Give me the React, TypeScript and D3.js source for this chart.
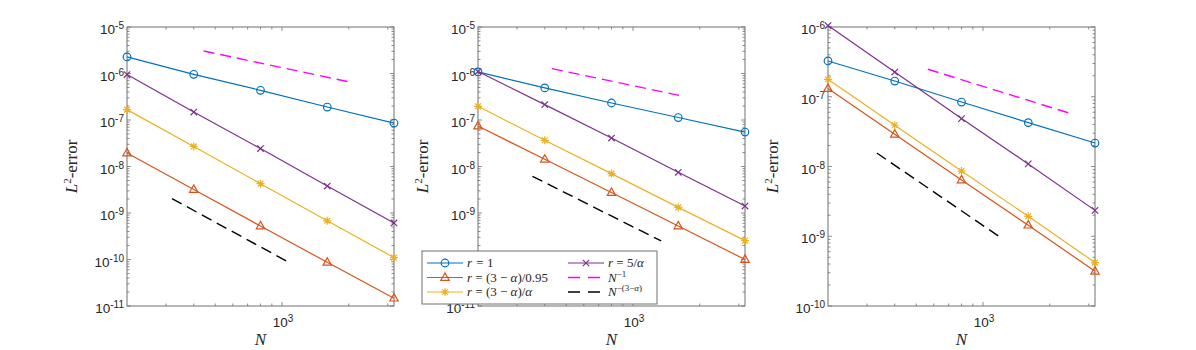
import * as d3 from "d3";

// N values shared by all three panels
const nValues = [200, 400, 800, 1600, 3200];

// panel 1
const p1Rone = [2.27e-6, 9.6e-7, 4.35e-7, 1.9e-7, 8.6e-8];
const p1R095 = [1.95e-8, 3.2e-9, 5.25e-10, 8.7e-11, 1.47e-11];
const p1RAlpha = [1.67e-7, 2.7e-8, 4.27e-9, 6.8e-10, 1.1e-10];
const p1R5 = [9.5e-7, 1.48e-7, 2.43e-8, 3.8e-9, 6.1e-10];
const p1SlopeOneN = [443, 2084];
const p1SlopeOne = [3.05e-6, 6.37e-7];
const p1SlopeAlphaN = [319, 1069];
const p1SlopeAlpha = [2.04e-9, 8.8e-11];

// panel 2
const p2Rone = [1.08e-6, 4.9e-7, 2.32e-7, 1.13e-7, 5.5e-8];
const p2R095 = [7.4e-8, 1.43e-8, 2.75e-9, 5.25e-10, 1.0e-10];
const p2RAlpha = [1.97e-7, 3.66e-8, 7.03e-9, 1.32e-9, 2.55e-10];
const p2R5 = [1.1e-6, 2.14e-7, 4.1e-8, 7.5e-9, 1.41e-9];
const p2SlopeOneN = [431, 1667];
const p2SlopeOne = [1.27e-6, 3.28e-7];
const p2SlopeAlphaN = [352, 1340];
const p2SlopeAlpha = [6.16e-9, 2.5e-10];

// panel 3
const p3Rone = [3.26e-7, 1.68e-7, 8.4e-8, 4.26e-8, 2.17e-8];
const p3R095 = [1.31e-7, 2.9e-8, 6.4e-9, 1.44e-9, 3.15e-10];
const p3RAlpha = [1.78e-7, 3.9e-8, 8.6e-9, 1.93e-9, 4.19e-10];
const p3R5 = [1.05e-6, 2.26e-7, 4.86e-8, 1.09e-8, 2.35e-9];
const p3SlopeOneN = [564, 2496];
const p3SlopeOne = [2.48e-7, 5.73e-8];
const p3SlopeAlphaN = [332, 1221];
const p3SlopeAlpha = [1.56e-8, 9.25e-10];

const xDomain = [200, 3200];
const xMajor = [1000];

const colors = {
  blue: "#0072BD",
  orange: "#D95319",
  yellow: "#EDB120",
  purple: "#7E2F8E",
  magenta: "#FF00FF",
  black: "#000000",
};

const sans = "'Liberation Sans', Arial, Helvetica, sans-serif";
const serif = "'Liberation Serif', 'Times New Roman', serif";

const W = 1196;
const H = 350;
const top = 27;
const plotH = 279;
const plotW = 267;

const panels = [
  { left: 127, yExp: [-11, -5], series: [p1Rone, p1R095, p1RAlpha, p1R5], refs: [[p1SlopeOneN, p1SlopeOne], [p1SlopeAlphaN, p1SlopeAlpha]] },
  { left: 478, yExp: [-11, -5], series: [p2Rone, p2R095, p2RAlpha, p2R5], refs: [[p2SlopeOneN, p2SlopeOne], [p2SlopeAlphaN, p2SlopeAlpha]] },
  { left: 828, yExp: [-10, -6], series: [p3Rone, p3R095, p3RAlpha, p3R5], refs: [[p3SlopeOneN, p3SlopeOne], [p3SlopeAlphaN, p3SlopeAlpha]] },
];

const seriesStyle = [
  { color: colors.blue, marker: "circle" },
  { color: colors.orange, marker: "triangle" },
  { color: colors.yellow, marker: "star" },
  { color: colors.purple, marker: "cross" },
];
const refStyle = [colors.magenta, colors.black];

function Marker({ kind, x, y, color }) {
  const sw = 1.2;
  if (kind === "circle")
    return <circle cx={x} cy={y} r={3.8} fill="none" stroke={color} strokeWidth={sw} />;
  if (kind === "triangle")
    return (
      <path d={`M${x},${y - 4.6}L${x + 4.2},${y + 2.8}L${x - 4.2},${y + 2.8}Z`}
        fill="none" stroke={color} strokeWidth={sw} />
    );
  if (kind === "star") {
    const a = 4, b = 2.9;
    return (
      <path d={`M${x},${y - a}V${y + a}M${x - a},${y}H${x + a}M${x - b},${y - b}L${x + b},${y + b}M${x - b},${y + b}L${x + b},${y - b}`}
        stroke={color} strokeWidth={sw} />
    );
  }
  const c = 3.2;
  return (
    <path d={`M${x - c},${y - c}L${x + c},${y + c}M${x - c},${y + c}L${x + c},${y - c}`}
      stroke={color} strokeWidth={sw} />
  );
}

function Pow({ x, y, anchor, exp, size, supSize }) {
  return (
    <text x={x} y={y} textAnchor={anchor} fontFamily={sans} fontSize={size} fill="#262626">
      10<tspan dy={-5} fontSize={supSize}>{exp}</tspan>
    </text>
  );
}

function Panel({ p }) {
  const x = d3.scaleLog().domain(xDomain).range([p.left, p.left + plotW]);
  const y = d3.scaleLog().domain([10 ** p.yExp[0], 10 ** p.yExp[1]]).range([top + plotH, top]);
  const right = p.left + plotW;
  const bottom = top + plotH;
  const yMajor = d3.range(p.yExp[0], p.yExp[1] + 1);
  const yMinor = [];
  for (let e = p.yExp[0]; e < p.yExp[1]; e++) for (let k = 2; k <= 9; k++) yMinor.push(k * 10 ** e);
  const xMinor = [300, 400, 500, 600, 700, 800, 900, 2000, 3000];
  const line = d3.line<number>().x((_, i) => x(nValues[i])).y((d) => y(d));
  const tick = 4, minor = 2.5;
  const axisColor = "#707070";
  return (
    <g>
      {/* ticks */}
      <g stroke={axisColor} strokeWidth={0.8}>
        {yMajor.map((v) => (
          <g key={"ym" + v}>
            <line x1={p.left} x2={p.left + tick} y1={y(10 ** v)} y2={y(10 ** v)} />
            <line x1={right} x2={right - tick} y1={y(10 ** v)} y2={y(10 ** v)} />
          </g>
        ))}
        {yMinor.map((v, i) => (
          <g key={"yn" + i}>
            <line x1={p.left} x2={p.left + minor} y1={y(v)} y2={y(v)} />
            <line x1={right} x2={right - minor} y1={y(v)} y2={y(v)} />
          </g>
        ))}
        {xMajor.map((v) => (
          <g key={"xm" + v}>
            <line x1={x(v)} x2={x(v)} y1={bottom} y2={bottom - tick} />
            <line x1={x(v)} x2={x(v)} y1={top} y2={top + tick} />
          </g>
        ))}
        {xMinor.map((v) => (
          <g key={"xn" + v}>
            <line x1={x(v)} x2={x(v)} y1={bottom} y2={bottom - minor} />
            <line x1={x(v)} x2={x(v)} y1={top} y2={top + minor} />
          </g>
        ))}
      </g>
      <rect x={p.left} y={top} width={plotW} height={plotH} fill="none" stroke={axisColor} strokeWidth={1} />

      {/* tick labels */}
      {yMajor.map((v) => (
        <Pow key={"yl" + v} x={p.left - 3} y={y(10 ** v) + 7} anchor="end" exp={`-${-v}`} size={13.5} supSize={10} />
      ))}
      {xMajor.map((v) => (
        <Pow key={"xl" + v} x={x(v) + 1} y={bottom + 21} anchor="middle" exp={`${Math.log10(v)}`} size={13.5} supSize={10} />
      ))}

      {/* axis labels */}
      <text x={(p.left + right) / 2} y={bottom + 39} textAnchor="middle" fontFamily={serif} fontStyle="italic" fontSize={17} fill="#262626">N</text>
      <text transform={`translate(${p.left - 50},${top + plotH / 2}) rotate(-90)`} textAnchor="middle" fontFamily={serif} fontSize={17} fill="#262626">
        <tspan fontStyle="italic">L</tspan>
        <tspan dy={-6} fontSize={11}>2</tspan>
        <tspan dy={6}>-error</tspan>
      </text>

      {/* series */}
      {p.series.map((vals, si) => (
        <g key={"s" + si}>
          <path d={line(vals)} fill="none" stroke={seriesStyle[si].color} strokeWidth={1.2} />
          {vals.map((v, i) => (
            <Marker key={i} kind={seriesStyle[si].marker} x={x(nValues[i])} y={y(v)} color={seriesStyle[si].color} />
          ))}
        </g>
      ))}
      {p.refs.map(([ns, vs], ri) => (
        <line key={"r" + ri} x1={x(ns[0])} y1={y(vs[0])} x2={x(ns[1])} y2={y(vs[1])}
          stroke={refStyle[ri]} strokeWidth={1.4} strokeDasharray="11 6" />
      ))}
    </g>
  );
}

function Legend() {
  const bx = 422, by = 251, bw = 235, bh = 53;
  const rows = [263, 277.5, 292];
  const c1 = [427, 463], c2 = [568, 604];
  const t = { fontFamily: serif, fontSize: 13, fill: "#262626" };
  return (
    <g>
      <rect x={bx} y={by} width={bw} height={bh} fill="#fff" stroke="#707070" strokeWidth={1} />
      {seriesStyle.slice(0, 3).map((s, i) => (
        <g key={i}>
          <line x1={c1[0]} x2={c1[1]} y1={rows[i]} y2={rows[i]} stroke={s.color} strokeWidth={1.2} />
          <Marker kind={s.marker} x={(c1[0] + c1[1]) / 2} y={rows[i]} color={s.color} />
        </g>
      ))}
      <line x1={c2[0]} x2={c2[1]} y1={rows[0]} y2={rows[0]} stroke={colors.purple} strokeWidth={1.2} />
      <Marker kind="cross" x={(c2[0] + c2[1]) / 2} y={rows[0]} color={colors.purple} />
      <line x1={c2[0]} x2={c2[1]} y1={rows[1]} y2={rows[1]} stroke={colors.magenta} strokeWidth={1.4} strokeDasharray="12 8" />
      <line x1={c2[0]} x2={c2[1]} y1={rows[2]} y2={rows[2]} stroke={colors.black} strokeWidth={1.4} strokeDasharray="12 8" />

      <text x={467} y={rows[0] + 4} {...t}><tspan fontStyle="italic">r</tspan><tspan dx={1}> = 1</tspan></text>
      <text x={467} y={rows[1] + 4} {...t}><tspan fontStyle="italic">r</tspan> = (3 − <tspan fontStyle="italic">α</tspan>)/0.95</text>
      <text x={467} y={rows[2] + 4} {...t}><tspan fontStyle="italic">r</tspan> = (3 − <tspan fontStyle="italic">α</tspan>)/<tspan fontStyle="italic">α</tspan></text>
      <text x={608} y={rows[0] + 4} {...t}><tspan fontStyle="italic">r</tspan> = 5/<tspan fontStyle="italic">α</tspan></text>
      <text x={608} y={rows[1] + 4} {...t}><tspan fontStyle="italic">N</tspan><tspan dy={-5} fontSize={9}>−1</tspan></text>
      <text x={608} y={rows[2] + 4} {...t}><tspan fontStyle="italic">N</tspan><tspan dy={-5} fontSize={9}>−(3−<tspan fontStyle="italic">α</tspan>)</tspan></text>
    </g>
  );
}

export default function App() {
  return (
    <svg width={W} height={H} style={{ position: "absolute", left: 0, top: 0, background: "#fff" }}>
      {panels.map((p, i) => (
        <Panel key={i} p={p} />
      ))}
      <Legend />
    </svg>
  );
}
